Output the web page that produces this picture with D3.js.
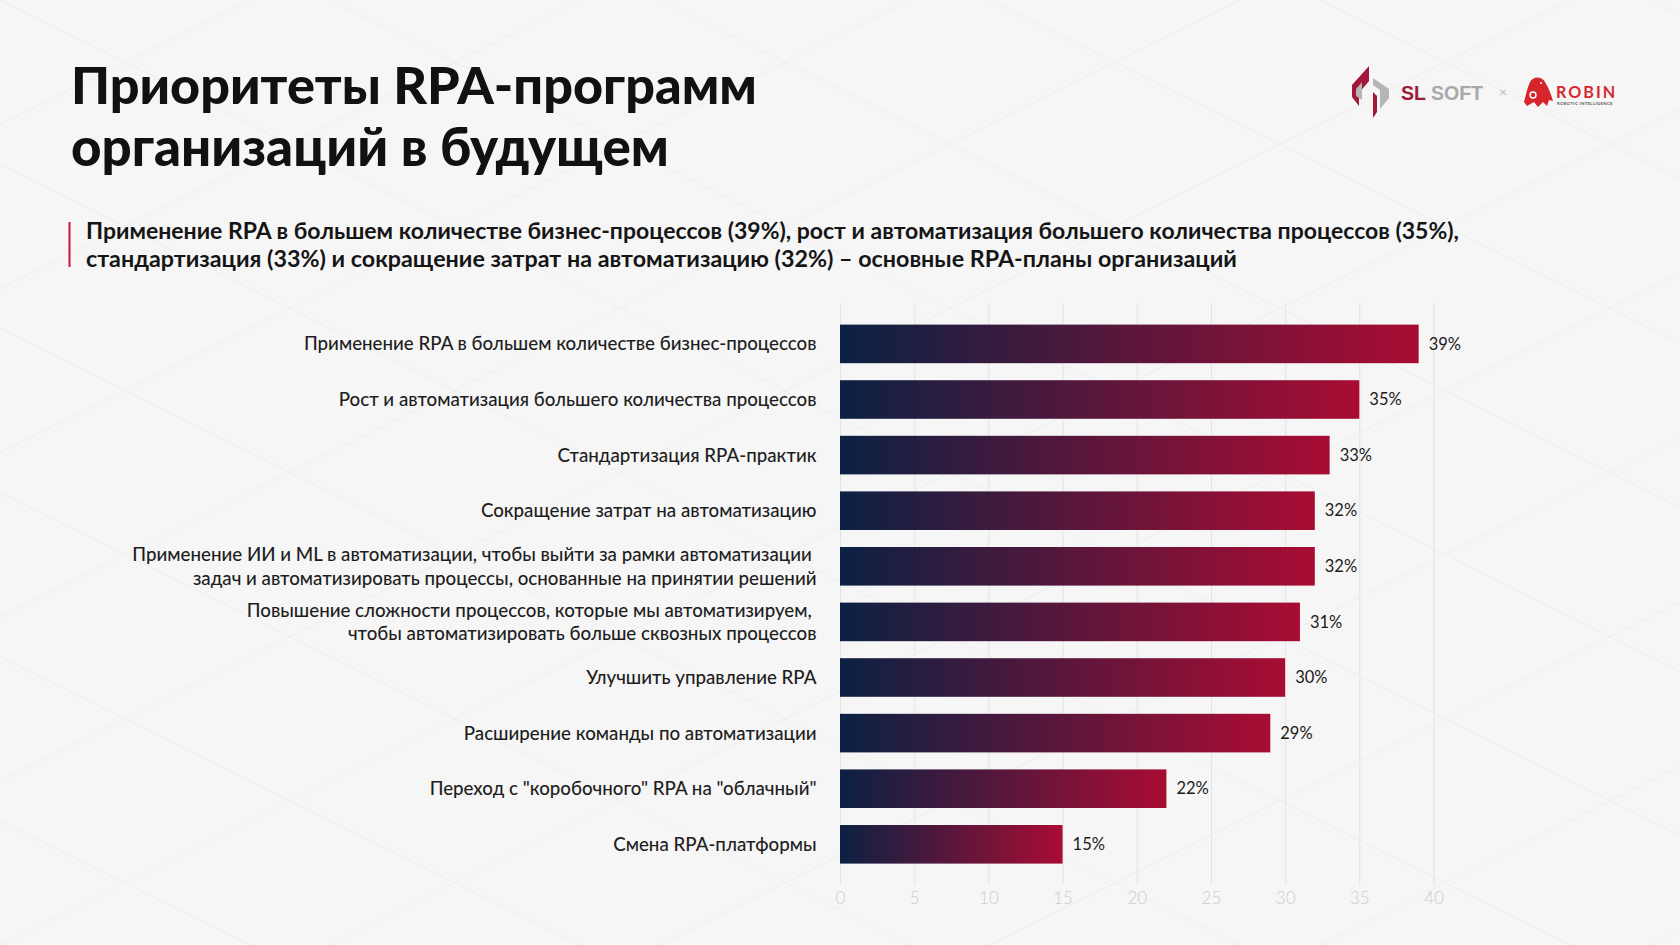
<!DOCTYPE html>
<html>
<head>
<meta charset="utf-8">
<script src="https://cdn.jsdelivr.net/npm/d3@7"></script>
<style>
  html, body { margin: 0; padding: 0; background: #f6f6f6; }
  svg { display: block; }
</style>
</head>
<body>
<svg id="chart" width="1680" height="945"></svg>
<script>
// ---------------- DATA ----------------
const categories = [
  ["Применение RPA в большем количестве бизнес-процессов"],
  ["Рост и автоматизация большего количества процессов"],
  ["Стандартизация RPA-практик"],
  ["Сокращение затрат на автоматизацию"],
  ["Применение ИИ и ML в автоматизации, чтобы выйти за рамки автоматизации ", "задач и автоматизировать процессы, основанные на принятии решений"],
  ["Повышение сложности процессов, которые мы автоматизируем, ", "чтобы автоматизировать больше сквозных процессов"],
  ["Улучшить управление RPA"],
  ["Расширение команды по автоматизации"],
  ["Переход с \"коробочного\" RPA на \"облачный\""],
  ["Смена RPA-платформы"]
];
const values = [39, 35, 33, 32, 32, 31, 30, 29, 22, 15];
const tickValues = [0, 5, 10, 15, 20, 25, 30, 35, 40];
const titleLines = ["Приоритеты RPA-программ", "организаций в будущем"];
const subtitleLines = [
  "Применение RPA в большем количестве бизнес-процессов (39%), рост и автоматизация большего количества процессов (35%),",
  "стандартизация (33%) и сокращение затрат на автоматизацию (32%) – основные RPA-планы организаций"
];

// ---------------- SETUP ----------------
const svg = d3.select("#chart");
const W = 1680, H = 945;
const FONT = "Lato, 'Noto Sans', sans-serif";

function fit(sel, targetW) {
  const n = sel.node();
  const cur = n.getComputedTextLength();
  const fs = parseFloat(sel.attr("font-size"));
  if (cur > 0) sel.attr("font-size", (fs * targetW / cur).toFixed(2));
}

// background
svg.append("rect").attr("width", W).attr("height", H).attr("fill", "#f6f6f6");
const bg = svg.append("g").attr("stroke", "#eeeeee").attr("stroke-width", 1).attr("fill", "none");
for (let k = -6; k < 10; k++) {
  const x0 = k * 330;
  bg.append("line").attr("x1", x0).attr("y1", 0).attr("x2", x0 + 1900).attr("y2", 945);
  bg.append("line").attr("x1", x0 + 1900).attr("y1", 0).attr("x2", x0).attr("y2", 945);
}

// gradient
const defs = svg.append("defs");
const grad = defs.append("linearGradient").attr("id", "barGrad")
  .attr("x1", "0%").attr("x2", "100%").attr("y1", "0%").attr("y2", "0%");
grad.append("stop").attr("offset", "0%").attr("stop-color", "#0b2143");
grad.append("stop").attr("offset", "100%").attr("stop-color", "#a90c33");

// ---------------- TITLE ----------------
const titleY = [104, 166];
const titleW = [686, 598];
titleLines.forEach((t, i) => {
  const s = svg.append("text")
    .attr("x", 71).attr("y", titleY[i])
    .attr("font-family", FONT).attr("font-weight", 900)
    .attr("font-size", 50).attr("fill", "#111111")
    .text(t);
  fit(s, titleW[i]);
});

// subtitle
svg.append("rect").attr("x", 68.5).attr("y", 222).attr("width", 2).attr("height", 45).attr("fill", "#c8143c");
const subY = [239, 267];
const subW = [1373, 1151];
let subFs = null;
subtitleLines.forEach((t, i) => {
  const s = svg.append("text")
    .attr("x", 86).attr("y", subY[i])
    .attr("font-family", FONT).attr("font-weight", 700)
    .attr("font-size", 21).attr("fill", "#151515")
    .text(t);
  fit(s, subW[i]);
});

// ---------------- LOGOS ----------------
const logo = svg.append("g");
// SL SOFT icon
logo.append("path").attr("d", "M1369,66 L1369,81 L1359,93 L1359,106 L1352,97 L1352,85 Z").attr("fill", "#a3173b");
logo.append("path").attr("d", "M1356,89 L1362,82 L1362,100 L1356,96 Z").attr("fill", "#b5b5b5");
logo.append("path").attr("d", "M1373,78 L1389,89 L1389,98 L1380,109 L1380,90 L1373,85 Z").attr("fill", "#b5b5b5");
logo.append("path").attr("d", "M1373,92 L1377,96 L1377,112 L1373,118 Z").attr("fill", "#a3173b");
const slText = logo.append("text").attr("x", 1401).attr("y", 99.5)
  .attr("font-family", "'Liberation Sans', Arial, sans-serif").attr("font-weight", 700)
  .attr("font-size", 18);
slText.append("tspan").attr("fill", "#9e1a3a").text("SL ");
slText.append("tspan").attr("fill", "#a8a8a8").text("SOFT");
fit(slText, 82);
logo.append("text").attr("x", 1503).attr("y", 97).attr("text-anchor", "middle")
  .attr("font-family", FONT).attr("font-size", 14).attr("fill", "#bdbdbd").text("×");
// Robin bird
logo.append("path")
  .attr("d", "M1530,82 C1533,76 1542,76 1545,82 C1549,88 1551,95 1553,101 L1549,100 L1547,106 L1543,102 L1538,107 L1534,102 L1527,106 L1524,102 C1526,95 1527,88 1530,82 Z")
  .attr("fill", "#d7262b");
logo.append("circle").attr("cx", 1533).attr("cy", 95).attr("r", 3).attr("fill", "none").attr("stroke", "#ffffff").attr("stroke-width", 1.4);
logo.append("circle").attr("cx", 1541).attr("cy", 83).attr("r", 1).attr("fill", "#ffffff");
const rob = logo.append("text").attr("x", 1556).attr("y", 97.5)
  .attr("font-family", FONT).attr("font-weight", 700).attr("letter-spacing", 2)
  .attr("font-size", 15).attr("fill", "#d42a2e").text("ROBIN");
fit(rob, 62);
const robs = logo.append("text").attr("x", 1557).attr("y", 105)
  .attr("font-family", FONT).attr("font-weight", 700).attr("letter-spacing", 0.4)
  .attr("font-size", 4).attr("fill", "#555555").text("ROBOTIC INTELLIGENCE");
fit(robs, 56);

// ---------------- CHART ----------------
const x = d3.scaleLinear().domain([0, 40]).range([840, 1433.5]);
const y = d3.scaleBand().domain(d3.range(values.length)).range([324.6, 863.6])
  .paddingInner(0.306).paddingOuter(0);

const gridTop = 303, axisY = 885;
const axis = d3.axisBottom(x).tickValues(tickValues).tickSize(-(axisY - gridTop)).tickPadding(7)
  .tickFormat(d3.format("d"));
const ax = svg.append("g").attr("transform", `translate(0,${axisY})`).call(axis);
ax.select(".domain").remove();
ax.selectAll(".tick line").attr("stroke", "#e3e3e3").attr("stroke-width", 1);
ax.selectAll(".tick text").attr("fill", "#cdcdcd").attr("font-family", FONT)
  .attr("font-weight", 300).attr("font-size", 17);

// bars
svg.append("g").selectAll("rect").data(values).join("rect")
  .attr("x", x(0))
  .attr("y", (d, i) => y(i))
  .attr("width", d => x(d) - x(0))
  .attr("height", y.bandwidth())
  .attr("fill", "url(#barGrad)");

// value labels
svg.append("g").selectAll("text").data(values).join("text")
  .attr("x", d => x(d) + 10)
  .attr("y", (d, i) => y(i) + y.bandwidth() / 2)
  .attr("dy", "0.35em")
  .attr("font-family", FONT).attr("font-size", 16.5).attr("fill", "#1a1a1a")
  .text(d => d + "%");

// category labels
const labelFs = (() => {
  const t = svg.append("text").attr("font-family", FONT).attr("font-weight", 500)
    .attr("font-size", 17).text(categories[0][0]);
  fit(t, 513);
  const fs = parseFloat(t.attr("font-size"));
  t.remove();
  return fs;
})();
const lab = svg.append("g").selectAll("text").data(categories).join("text")
  .attr("text-anchor", "end")
  .attr("font-family", FONT).attr("font-weight", 500)
  .attr("font-size", labelFs).attr("fill", "#1e1e1e")
  .attr("y", (d, i) => y(i) + y.bandwidth() / 2);
lab.each(function(d) {
  const t = d3.select(this);
  const n = d.length;
  d.forEach((line, j) => {
    t.append("tspan").attr("x", 816.5)
      .attr("dy", j === 0 ? ((0.35 - (n - 1) * 0.63) + "em") : "1.26em")
      .text(line);
  });
});
</script>
</body>
</html>
